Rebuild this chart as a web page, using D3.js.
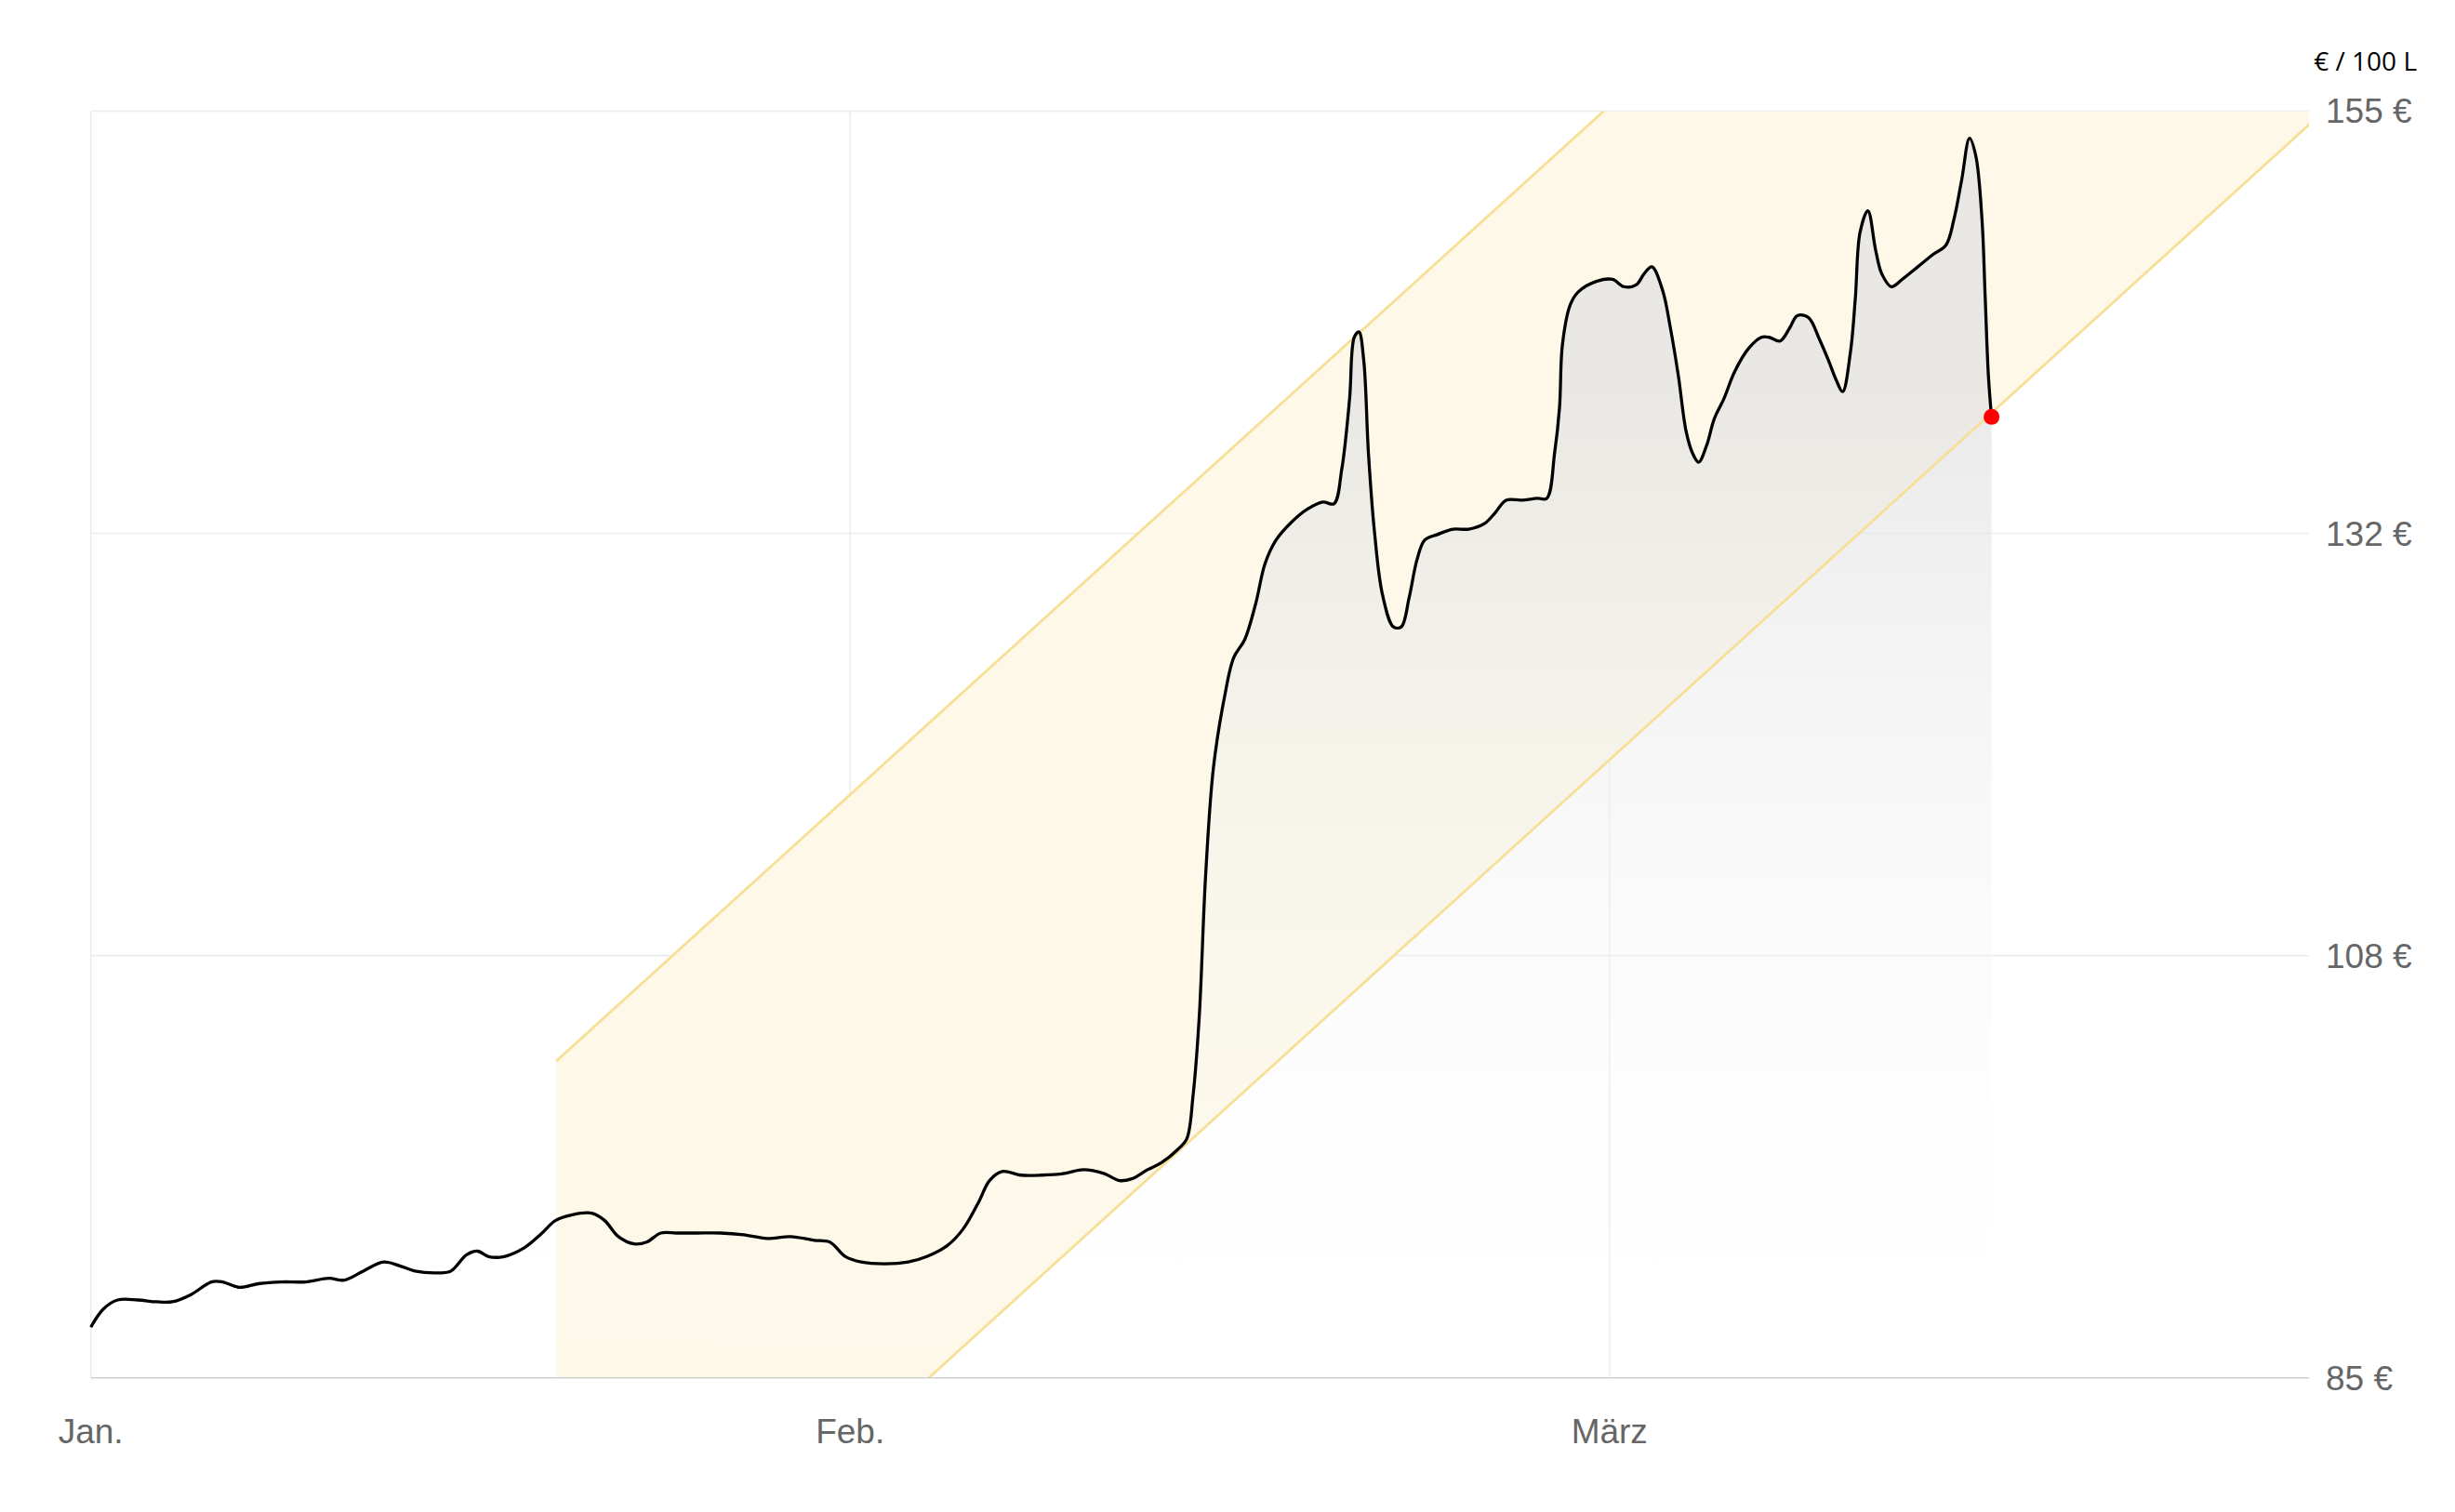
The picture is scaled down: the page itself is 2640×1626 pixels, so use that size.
<!DOCTYPE html>
<html><head><meta charset="utf-8">
<script src="https://cdn.jsdelivr.net/npm/d3@7"></script>
<style>body{margin:0;background:#fff}svg{display:block}</style>
</head><body>
<script>
const days = [0,0.51,1.09,1.92,2.68,3.32,4.09,4.92,5.37,6.07,6.84,7.8,8.76,9.72,10.35,11.12,11.95,12.59,13.23,14.19,14.7,15.34,15.79,16.24,16.87,17.71,18.34,18.98,19.62,20.45,20.97,21.54,22.18,22.69,23.27,23.91,24.74,25.7,26.65,27.61,28.57,29.53,30.17,30.81,31.45,32.41,33.37,34.13,34.96,35.6,36.24,36.69,37.2,37.97,38.8,39.76,40.52,41.35,41.99,42.5,43.14,43.72,44.36,44.74,45.0,45.25,45.51,45.83,46.28,46.66,47.11,47.56,47.94,48.39,49.03,49.66,50.3,50.75,51.07,51.39,51.58,51.77,51.97,52.16,52.41,52.73,53.18,53.5,53.82,54.14,54.46,54.97,55.61,56.25,56.89,57.33,57.78,58.42,59.06,59.44,59.76,59.96,60.08,60.4,60.72,61.49,62.13,62.58,63.09,63.41,63.73,64.17,64.49,64.81,65.13,65.39,65.64,65.96,66.28,66.67,67.11,67.69,68.2,68.52,68.97,69.35,69.67,70.12,70.57,70.95,71.27,71.52,71.84,72.04,72.23,72.55,72.87,73.12,73.51,73.95,74.59,75.23,75.74,76.06,76.38,76.7,76.96,77.21,77.34,77.47,77.6];
const prices = [87.8,88.8,89.3,89.3,89.2,89.2,89.6,90.3,90.3,90.0,90.2,90.3,90.3,90.5,90.4,90.9,91.4,91.2,90.9,90.8,90.9,91.8,92.0,91.7,91.7,92.2,92.9,93.7,94.0,94.1,93.7,92.8,92.4,92.5,93.0,93.0,93.0,93.0,92.9,92.7,92.8,92.6,92.5,91.7,91.4,91.3,91.4,91.7,92.3,93.2,94.7,95.9,96.4,96.2,96.2,96.3,96.5,96.3,95.9,96.0,96.5,96.9,97.6,98.2,100.6,104.9,112.7,118.7,122.6,124.8,125.8,127.8,130.0,131.3,132.3,133.0,133.4,133.3,135.2,139.1,142.5,142.8,141.2,136.1,131.7,128.3,126.5,126.5,128.1,130.2,131.3,131.6,131.9,131.9,132.2,132.8,133.5,133.5,133.6,133.6,136.1,138.6,142.1,144.3,145.0,145.6,145.7,145.3,145.4,146.0,146.4,145.1,143.0,140.4,137.3,136.1,135.6,136.5,138.0,139.1,140.6,141.9,142.5,142.5,142.3,143.0,143.7,143.6,142.4,141.2,140.1,139.5,141.7,144.7,148.3,149.5,147.3,146.0,145.3,145.7,146.4,147.1,147.6,149.0,151.2,153.5,152.5,149.0,144.7,140.4,138.1];
const channelDays = [19, 90.6];
const channelUpper = [102.5, 190.4];
const channelLower = [66.3, 154.3];
const monthDays = [0, 31, 62];
const monthLabels = ["Jan.", "Feb.", "März"];
const yTicks = [85, 85+70/3, 85+140/3, 155];
const unitLabel = "€ / 100 L";

const W=2640,H=1626, L=97.7, R=2483, T=119.5, B=1481.7;
const svg=d3.select("body").append("svg").attr("width",W).attr("height",H);
const x=d3.scaleLinear().domain([0,90.56]).range([L,R]);
const y=d3.scaleLinear().domain([85,155]).range([B,T]);
const curve=d3.curveCatmullRom.alpha(0.5);
const defs=svg.append("defs");
defs.append("clipPath").attr("id","pc").append("rect").attr("x",L).attr("y",T).attr("width",R-L).attr("height",B-T);
const g=defs.append("linearGradient").attr("id","ag").attr("gradientUnits","userSpaceOnUse")
  .attr("x1",0).attr("x2",0).attr("y1",y(140)).attr("y2",B);
g.append("stop").attr("offset",0).attr("stop-color","#e2e2e2").attr("stop-opacity",0.75);
g.append("stop").attr("offset",1).attr("stop-color","#ffffff").attr("stop-opacity",0);

svg.append("g").selectAll("line").data(yTicks.slice(1)).join("line")
  .attr("x1",L).attr("x2",R).attr("y1",d=>y(d)).attr("y2",d=>y(d)).attr("stroke","#ececec").attr("stroke-width",1.6);
svg.append("g").selectAll("line").data(monthDays).join("line")
  .attr("x1",d=>x(d)).attr("x2",d=>x(d)).attr("y1",T).attr("y2",B).attr("stroke","#ececec").attr("stroke-width",1.6);

const cg=svg.append("g").attr("clip-path","url(#pc)");
const chan=channelDays.map((d,i)=>({d,u:channelUpper[i],l:channelLower[i]}));
cg.append("path").datum(chan).attr("fill","#fdf8e8")
  .attr("d",d3.area().x(d=>x(d.d)).y0(d=>y(d.l)).y1(d=>y(d.u)));
const data=days.map((d,i)=>({d,v:prices[i]}));
cg.append("path").datum(data).attr("fill","url(#ag)")
  .attr("d",d3.area().curve(curve).x(d=>x(d.d)).y0(B).y1(d=>y(d.v)));
["u","l"].forEach(k=>cg.append("path").datum(chan).attr("fill","none").attr("stroke","#f7df95").attr("stroke-width",2.8)
  .attr("d",d3.line().x(d=>x(d.d)).y(d=>y(d[k]))));

svg.append("line").attr("x1",L).attr("x2",R).attr("y1",B).attr("y2",B).attr("stroke","#cfcfcf").attr("stroke-width",1.6);

svg.append("path").datum(data).attr("fill","none").attr("stroke","#000").attr("stroke-width",3.3)
  .attr("d",d3.line().curve(curve).x(d=>x(d.d)).y(d=>y(d.v)));
const last=data[data.length-1];
svg.append("circle").attr("cx",x(last.d)).attr("cy",y(last.v)).attr("r",8.5).attr("fill","#f00");

svg.append("g").selectAll("text").data(yTicks).join("text")
  .attr("x",R+18).attr("y",d=>y(d)).attr("dy","0.35em").attr("font-family","Liberation Sans, Arial, sans-serif")
  .attr("font-size",37).attr("fill","#666").text(d=>Math.round(d)+" €");
svg.append("g").selectAll("text").data(monthDays).join("text")
  .attr("x",d=>x(d)).attr("y",1552).attr("text-anchor","middle").attr("font-family","Liberation Sans, Arial, sans-serif")
  .attr("font-size",37).attr("fill","#666").text((d,i)=>monthLabels[i]);
svg.append("text").attr("x",2599).attr("y",76).attr("text-anchor","end").attr("font-family","Open Sans, sans-serif")
  .attr("font-size",28).attr("fill","#000").text(unitLabel);
</script>
</body></html>
